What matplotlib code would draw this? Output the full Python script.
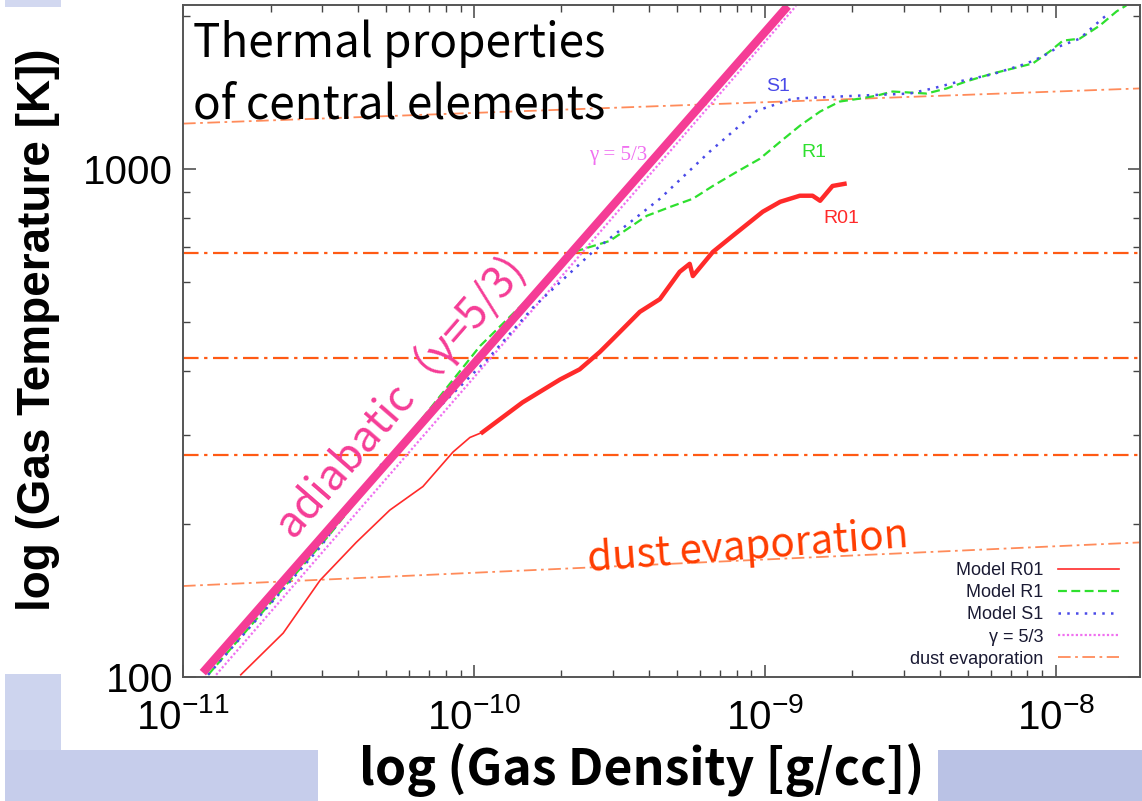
import numpy as np
import matplotlib
matplotlib.use('Agg')
import matplotlib.pyplot as plt
from matplotlib.patches import Rectangle
from matplotlib.ticker import LogLocator, NullFormatter, FixedLocator, FixedFormatter

plt.rcParams['font.family'] = ['Liberation Sans', 'DejaVu Sans']
plt.rcParams['mathtext.fontset'] = 'custom'
plt.rcParams['mathtext.rm'] = 'Liberation Sans'
plt.rcParams['mathtext.it'] = 'Liberation Sans:italic'

# central density [g/cc] vs temperature [K]
r01_rho = [1.58e-11, 2.21e-11, 2.96e-11, 3.94e-11, 5.14e-11, 6.68e-11, 8.47e-11, 9.69e-11,
           1.07e-10, 1.47e-10, 1.98e-10, 2.31e-10, 2.71e-10, 3.00e-10, 3.72e-10, 4.36e-10,
           5.10e-10, 5.52e-10, 5.66e-10, 6.63e-10, 7.76e-10, 9.84e-10, 1.13e-9, 1.32e-9,
           1.46e-9, 1.55e-9, 1.71e-9, 1.88e-9]
r01_T = [101, 122, 155, 184, 213, 237, 277, 296, 303, 347, 385, 403, 436, 462, 523, 554,
         627, 650, 615, 686, 738, 823, 861, 885, 885, 865, 925, 934]

r1_rho = [1.22e-11, 3.20e-11, 1.05e-10, 2.26e-10, 2.93e-10, 3.93e-10, 4.83e-10, 5.66e-10,
          6.63e-10, 8.01e-10, 9.61e-10, 1.13e-9, 1.32e-9, 1.55e-9, 1.81e-9, 2.12e-9, 2.43e-9,
          2.75e-9, 3.60e-9, 4.22e-9, 4.94e-9, 6.08e-9, 7.12e-9, 8.34e-9, 9.53e-9, 1.06e-8,
          1.21e-8, 1.42e-8, 1.62e-8, 1.75e-8]
r1_T = [101, 191, 448, 689, 721, 808, 845, 873, 925, 986, 1046, 1130, 1215, 1296, 1356, 1374,
        1393, 1419, 1406, 1439, 1486, 1540, 1575, 1611, 1701, 1787, 1803, 1914, 2040, 2096]

s1_rho = [1.22e-11, 2.96e-11, 4.75e-11, 1.11e-10, 1.60e-10, 2.56e-10, 4.36e-10, 6.47e-10,
          9.40e-10, 1.25e-9, 2.12e-9, 3.15e-9, 3.78e-9, 4.68e-9, 6.08e-9, 7.94e-9, 9.02e-9,
          1.03e-8, 1.21e-8, 1.45e-8, 1.53e-8]
s1_T = [101, 180, 260, 421, 534, 686, 873, 1081, 1301, 1374, 1393, 1406, 1439, 1486, 1535,
        1611, 1663, 1741, 1803, 1977, 2023]

gamma_rho = [1.30e-11, 1.28e-9]
gamma_T = [101, 2090]
adiab_rho = [1.17e-11, 1.20e-9]
adiab_T = [102, 2090]

dust_flat_T = [682, 424, 273]
dust_slope_rho = [1.0e-11, 1.95e-8]
dust_hi_T = [1227, 1439]
dust_lo_T = [151, 184]

x_ticks = [1e-11, 1e-10, 1e-9, 1e-8]
y_ticks = [100, 1000]
y_ticklabels = ['100', '1000']

RED = '#ff2a2a'
GREEN = '#2ee02e'
BLUE = '#4a4ae8'
VIOLET = '#f070f0'
DUST = '#ff5a14'
PINK = '#f53c96'
JP = ['Noto Sans CJK JP', 'DejaVu Sans']

fig = plt.figure(figsize=(11.42, 8.01), dpi=100)

# decorative slide patches
for (x0, y0, w, h, c) in [(5, 0, 56, 7, '#d2d8f0'), (5, 674, 56, 127, '#cdd4ee'),
                           (5, 750, 313, 51, '#c6cdeb'), (938, 750, 204, 51, '#bac2e5')]:
    fig.patches.append(Rectangle((x0 / 1142, 1 - (y0 + h) / 801), w / 1142, h / 801,
                                 transform=fig.transFigure, facecolor=c, edgecolor='none', zorder=0))

ax = fig.add_axes([183 / 1142, 1 - 677 / 801, 957 / 1142, 672 / 801])
ax.set_xscale('log')
ax.set_yscale('log')
ax.set_xlim(1e-11, 1.95e-8)
ax.set_ylim(100, 2100)

dash_dot = (0, (7, 2.5, 1.5, 2.5))
for t in dust_flat_T:
    ax.axhline(t, color=DUST, lw=1.6, ls=dash_dot)
ax.plot(dust_slope_rho, dust_hi_T, color=DUST, lw=1.3, alpha=0.7, ls=dash_dot)
l_dust, = ax.plot(dust_slope_rho, dust_lo_T, color=DUST, lw=1.3, alpha=0.7,
                  ls=dash_dot, label='dust evaporation')

l_g, = ax.plot(gamma_rho, gamma_T, color=VIOLET, lw=1.6, ls=(0, (1, 1)), label='γ = 5/3')
l_r01, = ax.plot(r01_rho, r01_T, color=RED, lw=1.2, label='Model R01')
ax.plot(r01_rho[8:], r01_T[8:], color=RED, lw=3.2, solid_joinstyle='round')
l_r1, = ax.plot(r1_rho, r1_T, color=GREEN, lw=1.6, ls=(0, (4, 2)), label='Model R1')
l_s1, = ax.plot(s1_rho, s1_T, color=BLUE, lw=1.8, ls=(0, (1, 2.5)), label='Model S1')

ax.plot(adiab_rho, adiab_T, color=PINK, lw=6, solid_capstyle='butt')

# ticks
ax.xaxis.set_major_locator(FixedLocator(x_ticks))
ax.xaxis.set_minor_locator(LogLocator(base=10, subs=np.arange(2, 10)))
ax.xaxis.set_minor_formatter(NullFormatter())
ax.yaxis.set_major_locator(FixedLocator(y_ticks))
ax.yaxis.set_major_formatter(FixedFormatter(y_ticklabels))
ax.yaxis.set_minor_locator(LogLocator(base=10, subs=np.arange(2, 10)))
ax.yaxis.set_minor_formatter(NullFormatter())
ax.tick_params(which='both', direction='in', top=True, right=True, color='#444444')
ax.tick_params(which='major', length=9, width=1.1, labelsize=29, pad=7)
ax.tick_params(axis='x', which='major', pad=15)
ax.tick_params(which='minor', length=5, width=1.0)
for s in ax.spines.values():
    s.set_color('#555555')
    s.set_linewidth(1.4)

# curve labels
ax.text(1.11e-9, 1452, 'S1', color=BLUE, fontsize=14, ha='center', va='center')
ax.text(1.47e-9, 1075, 'R1', color=GREEN, fontsize=14, ha='center', va='center')
ax.text(1.84e-9, 800, 'R01', color=RED, fontsize=14, ha='center', va='center')
ax.text(3.13e-10, 1062, 'γ = 5/3', color=VIOLET, fontsize=15, ha='center', va='center',
        family=['Liberation Serif', 'DejaVu Serif'])

leg = ax.legend(handles=[l_r01, l_r1, l_s1, l_g, l_dust], loc='lower right',
                bbox_to_anchor=(0.978, 0.014), frameon=False, markerfirst=False,
                fontsize=13, handlelength=3.4, handletextpad=0.8, labelspacing=0.28,
                borderpad=0, borderaxespad=0)
for t in leg.get_texts():
    t.set_color('#1a1a33')

# slide annotations
ax.text(0.0105, 0.9226, 'Thermal properties', transform=ax.transAxes, fontsize=33,
        family=JP, va='baseline', ha='left')
ax.text(0.0105, 0.8318, 'of central elements', transform=ax.transAxes, fontsize=33,
        family=JP, va='baseline', ha='left')
ax.text(5.6e-11, 358, 'adiabatic（γ=5/3)', color=PINK, fontsize=31, rotation=49,
        rotation_mode='anchor', ha='center', va='center', family=JP)
ax.text(8.75e-10, 180, 'dust evaporation', color='#ff3c00', fontsize=29, rotation=4.3,
        rotation_mode='anchor', ha='center', va='center', family=JP)

fig.text(38 / 1142, 1 - 330 / 801, 'log (Gas Temperature [K])', rotation=90, fontsize=33,
         fontweight='bold', ha='center', va='center')
fig.text(642 / 1142, 1 - 770 / 801, 'log (Gas Density [g/cc])', fontsize=36, fontweight='bold',
         ha='center', va='center', family=JP)

fig.savefig('out.png', dpi=100)
